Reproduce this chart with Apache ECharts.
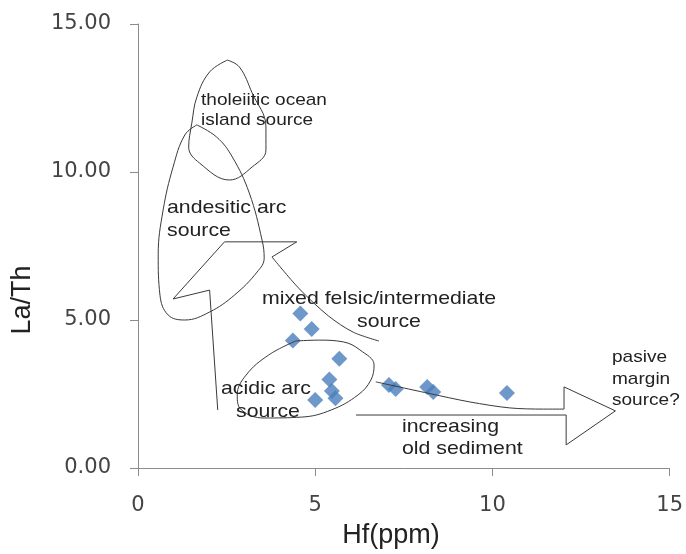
<!DOCTYPE html>
<html>
<head>
<meta charset="utf-8">
<script src="https://cdn.jsdelivr.net/npm/echarts@6/dist/echarts.min.js"></script>
<style>
  html, body { margin: 0; background: #fff; }
  #chart { width: 686px; height: 554px; }
</style>
</head>
<body>
<div id="chart"></div>
<script>
// sample points
const hfValues   = [4.58, 4.90, 4.37, 5.68, 5.40, 5.47, 5.57, 5.00, 7.08, 7.27, 8.16, 8.33, 10.41];
const laThValues = [5.22, 4.70, 4.31, 3.69, 2.99, 2.60, 2.36, 2.30, 2.80, 2.67, 2.74, 2.57, 2.53];

const xTicks = [0, 5, 10, 15];
const yTicks = [0, 5, 10, 15];

// hand drawn fields, in data units (Hf, La/Th)
const tholeiiticField = [
  [2.52, 13.78], [2.86, 13.55], [3.22, 12.67], [3.61, 11.52], [3.61, 10.74],
  [3.22, 10.17], [2.58, 9.73], [1.74, 10.30], [1.43, 10.84], [1.52, 11.66],
  [1.66, 12.53], [2.02, 13.38], [2.52, 13.78]
];
const andesiticField = [
  [1.66, 11.59], [2.22, 11.18], [2.66, 10.51], [3.14, 9.29], [3.50, 7.70],
  [3.56, 7.09], [3.36, 6.62], [2.72, 5.84], [2.02, 5.27], [1.32, 5.00],
  [0.85, 5.17], [0.62, 5.84], [0.57, 7.20], [0.71, 8.72], [0.99, 10.17],
  [1.32, 11.25], [1.66, 11.59]
];
const acidicField = [
  [4.45, 4.29], [5.09, 4.32], [5.79, 4.26], [6.26, 3.99], [6.66, 3.48],
  [6.57, 2.97], [6.21, 2.47], [5.45, 1.96], [4.62, 1.72], [3.56, 1.69],
  [2.92, 1.96], [2.80, 2.47], [3.05, 3.14], [3.69, 3.82], [4.45, 4.29]
];
const mixedArrowStraight = [
  [2.25, 1.96], [2.02, 6.01], [0.99, 5.71], [2.44, 7.64], [4.48, 7.64], [3.78, 7.13]
];
const mixedArrowCurve = [
  [3.78, 7.13], [4.53, 6.08], [5.37, 5.14], [6.07, 4.59], [6.80, 4.29]
];
const sedimentArrowStraight = [
  [6.15, 1.79], [12.08, 1.79], [12.08, 0.78], [13.47, 1.93], [12.02, 2.74], [12.02, 1.99]
];
const sedimentArrowCurve = [
  [6.71, 2.91], [8.17, 2.53], [9.37, 2.23], [10.49, 2.03], [11.44, 1.99], [12.02, 1.99]
];

const chart = echarts.init(document.getElementById('chart'));

const outline = (data, smooth) => ({
  type: 'line',
  data: data,
  smooth: smooth,
  symbol: 'none',
  silent: true,
  z: 3,
  lineStyle: { color: '#3a3a3a', width: 1 }
});

// the source figure is a bit stretched sideways, so the notes get scaleX
const note = (x, y, text, size, lh) => ({
  type: 'text',
  x: x,
  y: y,
  z: 10,
  scaleX: 1.12,
  style: {
    text: text,
    fontFamily: 'Liberation Sans',
    fontSize: size,
    lineHeight: lh,
    fill: '#222',
    align: 'left',
    verticalAlign: 'top'
  }
});

chart.setOption({
  animation: false,
  backgroundColor: '#fff',
  grid: { left: 138, right: 11, top: 24, bottom: 86, containLabel: false },
  xAxis: {
    type: 'value',
    min: xTicks[0],
    max: xTicks[xTicks.length - 1],
    interval: 5,
    axisLine: { lineStyle: { color: '#8c8c8c' } },
    axisTick: { length: 8, lineStyle: { color: '#8c8c8c' } },
    axisLabel: { margin: 27, fontFamily: 'DejaVu Sans', fontSize: 21, color: '#444' },
    splitLine: { show: false }
  },
  yAxis: {
    type: 'value',
    min: yTicks[0],
    max: yTicks[yTicks.length - 1],
    interval: 5,
    axisLine: { show: true, lineStyle: { color: '#8c8c8c' } },
    axisTick: { show: true, length: 8, lineStyle: { color: '#8c8c8c' } },
    axisLabel: {
      margin: 27,
      fontFamily: 'DejaVu Sans',
      fontSize: 21,
      color: '#444',
      formatter: v => v.toFixed(2)
    },
    splitLine: { show: false }
  },
  graphic: [
    {
      type: 'text',
      x: 23,
      y: 300,
      rotation: Math.PI / 2,
      style: {
        text: 'La/Th',
        fontFamily: 'Liberation Sans',
        fontSize: 27,
        fill: '#222',
        align: 'center',
        verticalAlign: 'middle'
      }
    },
    {
      type: 'text',
      x: 391,
      y: 536,
      style: {
        text: 'Hf(ppm)',
        fontFamily: 'Liberation Sans',
        fontSize: 27,
        fill: '#222',
        align: 'center',
        verticalAlign: 'middle'
      }
    },
    note(201, 90, 'tholeiitic ocean\nisland source', 17, 20),
    note(167, 196, 'andesitic arc\nsource', 19, 23),
    note(262, 288, 'mixed felsic/intermediate', 19, 22),
    note(357, 311, 'source', 19, 22),
    note(221, 378, 'acidic arc', 19, 22),
    note(236, 401, 'source', 19, 22),
    note(402, 416, 'increasing\nold sediment', 19, 22),
    note(612, 347, 'pasive\nmargin\nsource?', 17, 21.5)
  ],
  series: [
    {
      name: 'samples',
      type: 'scatter',
      symbol: 'diamond',
      symbolSize: 16,
      z: 2,
      itemStyle: { color: '#4a7ebb' },
      data: hfValues.map((h, i) => [h, laThValues[i]])
    },
    outline(tholeiiticField, 0.4),
    outline(andesiticField, 0.4),
    outline(acidicField, 0.4),
    outline(mixedArrowStraight, false),
    outline(mixedArrowCurve, 0.3),
    outline(sedimentArrowStraight, false),
    outline(sedimentArrowCurve, 0.3)
  ]
});
</script>
</body>
</html>
